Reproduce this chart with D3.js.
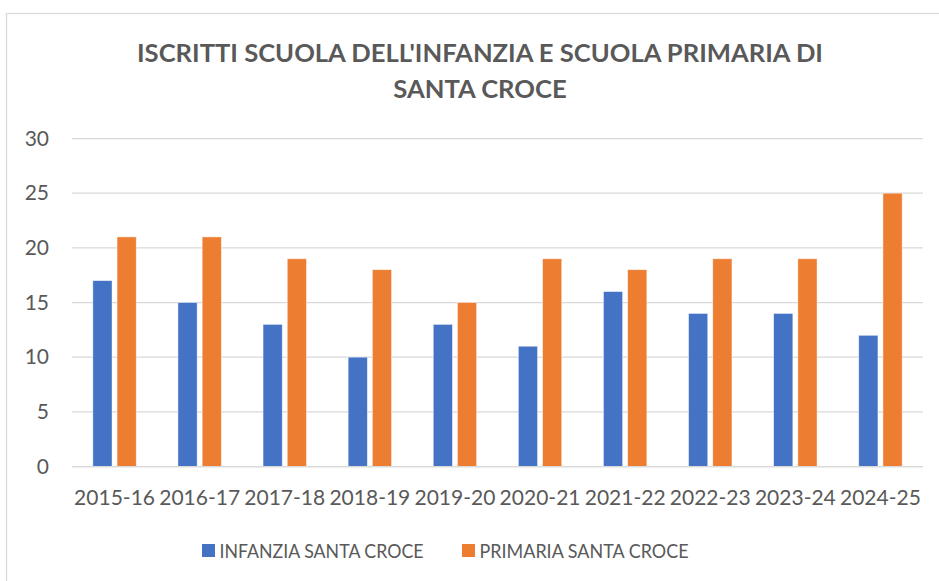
<!DOCTYPE html>
<html>
<head>
<meta charset="utf-8">
<script src="https://cdn.jsdelivr.net/npm/d3@7"></script>
<style>
  html, body { margin: 0; padding: 0; background: #fff; }
  svg { display: block; font-family: Lato, 'Open Sans', sans-serif; }
</style>
</head>
<body>
<svg id="chart" width="939" height="581"></svg>
<script>
const YEARS = ['2015-16', '2016-17', '2017-18', '2018-19', '2019-20', '2020-21', '2021-22', '2022-23', '2023-24', '2024-25']
const INFANZIA = [17, 15, 13, 10, 13, 11, 16, 14, 14, 12]
const PRIMARIA = [21, 21, 19, 18, 15, 19, 18, 19, 19, 25]
const SERIES = ['INFANZIA SANTA CROCE', 'PRIMARIA SANTA CROCE']
const Y_TICKS = [0, 5, 10, 15, 20, 25, 30]
const TITLE_LINES = ["ISCRITTI SCUOLA DELL'INFANZIA E SCUOLA PRIMARIA DI", 'SANTA CROCE']

const COLORS = ['#4472C4', '#ED7D31']
const TEXT = '#595959'
const GRID = '#d9d9d9'

const W = 939, H = 581
const plot = { left: 72, right: 923, top: 138.5, bottom: 466.5 }

const svg = d3.select('#chart')

// chart frame
svg.append('rect')
  .attr('x', 6.5).attr('y', 13.5)
  .attr('width', W).attr('height', H)
  .attr('fill', '#fff')
  .attr('stroke', GRID)
  .attr('stroke-width', 1.25)

// title
svg.append('g')
  .selectAll('text')
  .data(TITLE_LINES)
  .join('text')
  .attr('x', 480)
  .attr('y', (d, i) => 61.5 + i * 36)
  .attr('text-anchor', 'middle')
  .attr('font-size', 25.6)
  .attr('font-weight', 700)
  .attr('fill', TEXT)
  .text(d => d)

const y = d3.scaleLinear().domain([0, 30]).range([plot.bottom, plot.top])

const x0 = d3.scaleBand()
  .domain(YEARS)
  .range([plot.left, plot.right])
  .paddingInner(0.49)
  .paddingOuter(0.245)

const x1 = d3.scaleBand()
  .domain(SERIES)
  .range([0, x0.bandwidth()])
  .paddingInner(0.207)

// gridlines
svg.append('g')
  .selectAll('line')
  .data(Y_TICKS)
  .join('line')
  .attr('x1', plot.left).attr('x2', plot.right)
  .attr('y1', d => y(d)).attr('y2', d => y(d))
  .attr('stroke', GRID)
  .attr('stroke-width', 1.25)

// y axis labels
const yAxis = svg.append('g')
  .attr('transform', `translate(${plot.left - 23},0)`)
  .call(d3.axisLeft(y).tickValues(Y_TICKS).tickSize(0).tickPadding(0))
yAxis.select('.domain').remove()
yAxis.selectAll('text')
  .attr('font-size', 21)
  .attr('font-family', 'Lato, sans-serif')
  .attr('fill', TEXT)

// bars
const rows = YEARS.map((yr, i) => ({ yr, vals: [INFANZIA[i], PRIMARIA[i]] }))
svg.append('g')
  .selectAll('g')
  .data(rows)
  .join('g')
  .attr('transform', d => `translate(${x0(d.yr)},0)`)
  .selectAll('rect')
  .data(d => d.vals.map((v, k) => ({ s: SERIES[k], v, k })))
  .join('rect')
  .attr('x', d => x1(d.s))
  .attr('y', d => y(d.v))
  .attr('width', x1.bandwidth())
  .attr('height', d => y(0) - y(d.v))
  .attr('fill', d => COLORS[d.k])
  .attr('stroke', '#fff')
  .attr('stroke-opacity', 0.6)
  .attr('stroke-width', 0.75)

// baseline redrawn above bars
svg.append('line')
  .attr('x1', plot.left).attr('x2', plot.right)
  .attr('y1', y(0)).attr('y2', y(0))
  .attr('stroke', GRID)
  .attr('stroke-width', 1.25)

// x axis labels
const xAxis = svg.append('g')
  .attr('transform', `translate(0,${plot.bottom})`)
  .call(d3.axisBottom(x0).tickSize(0).tickPadding(24))
xAxis.select('.domain').remove()
xAxis.selectAll('text')
  .attr('font-size', 21)
  .attr('font-family', 'Lato, sans-serif')
  .attr('fill', TEXT)

// legend
const legendX = [202, 462]
const legendLen = [204, 209]
const legend = svg.append('g')
  .selectAll('g')
  .data(SERIES)
  .join('g')
  .attr('transform', (d, i) => `translate(${legendX[i]},544)`)
legend.append('rect')
  .attr('width', 13).attr('height', 13)
  .attr('fill', (d, i) => COLORS[i])
legend.append('text')
  .attr('x', 17.5).attr('y', 13.5)
  .attr('font-size', 20)
  .attr('textLength', (d, i) => legendLen[i])
  .attr('lengthAdjust', 'spacingAndGlyphs')
  .attr('fill', TEXT)
  .text(d => d)
</script>
</body>
</html>
